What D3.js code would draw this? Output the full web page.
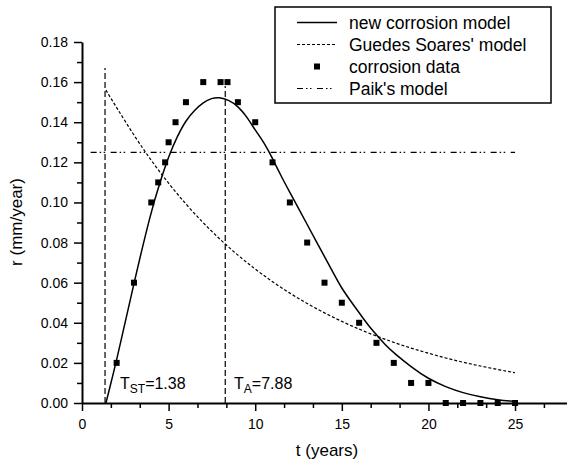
<!DOCTYPE html>
<html>
<head>
<meta charset="utf-8">
<script src="https://cdn.jsdelivr.net/npm/d3@7"></script>
<style>
  body { margin: 0; background: #fff; }
  svg { display: block; font-family: "Liberation Sans", Arial, sans-serif; }
</style>
</head>
<body>
<svg id="chart" width="567" height="464"></svg>
<script>
// corrosion data (t in years, r in mm/year)
const dataT = [2, 3, 4, 4.4, 4.8, 5, 5.4, 6, 7, 8, 8.4, 9, 10, 11, 12, 13, 14, 15, 16, 17, 18, 19, 20, 21, 22, 23, 24, 25];
const dataR = [0.02, 0.06, 0.10, 0.11, 0.12, 0.13, 0.14, 0.15, 0.16, 0.16, 0.16, 0.15, 0.14, 0.12, 0.10, 0.08, 0.06, 0.05, 0.04, 0.03, 0.02, 0.01, 0.01, 0, 0, 0, 0, 0];

// new corrosion model
const newT = [1.38, 2, 3, 4, 4.5, 5, 5.5, 6, 6.5, 7, 7.5, 7.9, 8.5, 9, 9.5, 10, 10.5, 11, 11.5, 12, 12.5, 13, 13.5, 14, 14.5, 15, 15.5, 16, 16.5, 17, 17.5, 18, 19, 20, 21, 22, 23, 24, 25];
const newR = [0, 0.021, 0.060, 0.096, 0.110, 0.123, 0.133, 0.141, 0.146, 0.150, 0.152, 0.1525, 0.151, 0.148, 0.143, 0.136, 0.130, 0.122, 0.113, 0.105, 0.097, 0.089, 0.081, 0.073, 0.065, 0.057, 0.051, 0.045, 0.039, 0.034, 0.029, 0.025, 0.018, 0.012, 0.008, 0.005, 0.003, 0.0015, 0.0008];

// Guedes Soares' model
const gsT = [1.38, 2, 3, 4, 5, 6, 7, 8, 9, 10, 11, 12, 13, 14, 15, 16, 17, 18, 19, 20, 21, 22, 23, 24, 25];
const gsR = [0.156, 0.1473, 0.1334, 0.1208, 0.1094, 0.0991, 0.0897, 0.0813, 0.0736, 0.0667, 0.0604, 0.0547, 0.0495, 0.0449, 0.0406, 0.0368, 0.0333, 0.0302, 0.0273, 0.0248, 0.0224, 0.0203, 0.0184, 0.0167, 0.0151];

// Paik's model (constant rate)
const paikT = [0.5, 25];
const paikR = [0.125, 0.125];

// marker lines T_ST and T_A
const markT = [1.33, 8.27];
const markTop = [0.167, 0.158];

const xMajor = [0, 5, 10, 15, 20, 25];
const yMajor = [0, 0.02, 0.04, 0.06, 0.08, 0.10, 0.12, 0.14, 0.16, 0.18];

const legendNames = ["new corrosion model", "Guedes Soares' model", "corrosion data", "Paik's model"];

const svg = d3.select("#chart");
const x = d3.scaleLinear().domain([0, 28]).range([82, 567]);
const y = d3.scaleLinear().domain([0, 0.18]).range([403, 42]);

// axes
const xMinor = d3.range(0, 28.01, 5 / 3).filter(v => Math.abs(v / 5 - Math.round(v / 5)) > 0.01);
const yMinor = d3.range(0.01, 0.18, 0.02);

svg.append("g")
    .attr("transform", "translate(0,403)")
    .call(d3.axisBottom(x).tickValues(xMinor).tickSize(5).tickSizeOuter(0).tickFormat(""))
    .call(g => g.select(".domain").remove())
    .selectAll("line").attr("stroke-width", 1.5);

svg.append("g")
    .attr("transform", "translate(82,0)")
    .call(d3.axisLeft(y).tickValues(yMinor).tickSize(5).tickSizeOuter(0).tickFormat(""))
    .call(g => g.select(".domain").remove())
    .selectAll("line").attr("stroke-width", 1.5);

const gx = svg.append("g")
    .attr("transform", "translate(0,403)")
    .call(d3.axisBottom(x).tickValues(xMajor).tickSize(8).tickSizeOuter(0).tickPadding(8).tickFormat(d3.format("d")));
gx.select(".domain").attr("stroke-width", 2);
gx.selectAll("line").attr("stroke-width", 1.5);
gx.selectAll("text").attr("font-size", 14).attr("fill", "#000");

const gy = svg.append("g")
    .attr("transform", "translate(82,0)")
    .call(d3.axisLeft(y).tickValues(yMajor).tickSize(8).tickSizeOuter(0).tickPadding(6).tickFormat(d3.format(".2f")));
gy.select(".domain").attr("stroke-width", 2);
gy.selectAll("line").attr("stroke-width", 1.5);
gy.selectAll("text").attr("font-size", 14).attr("fill", "#000");
svg.selectAll("g").attr("font-family", null);

// axis titles
svg.append("text")
    .attr("x", 327).attr("y", 456)
    .attr("text-anchor", "middle")
    .attr("font-size", 17)
    .text("t (years)");

svg.append("text")
    .attr("transform", "translate(22,222) rotate(-90)")
    .attr("text-anchor", "middle")
    .attr("font-size", 17)
    .text("r (mm/year)");

// lines
const line = d3.line().x(d => x(d[0])).y(d => y(d[1])).curve(d3.curveBasis);

svg.append("path")
    .datum(d3.zip(gsT, gsR))
    .attr("fill", "none").attr("stroke", "#000").attr("stroke-width", 1.2)
    .attr("stroke-dasharray", "3,2")
    .attr("d", line);

svg.append("path")
    .datum(d3.zip(paikT, paikR))
    .attr("fill", "none").attr("stroke", "#000").attr("stroke-width", 1.2)
    .attr("stroke-dasharray", "6,3,1.5,2.5,1.5,5.5")
    .attr("d", line);

markT.forEach((t, i) => {
    svg.append("line")
        .attr("x1", x(t)).attr("x2", x(t))
        .attr("y1", y(0)).attr("y2", y(markTop[i]))
        .attr("stroke", "#000").attr("stroke-width", 1.2)
        .attr("stroke-dasharray", "6,3");
});

svg.append("path")
    .datum(d3.zip(newT, newR))
    .attr("fill", "none").attr("stroke", "#000").attr("stroke-width", 1.5)
    .attr("d", line);

svg.selectAll("rect.pt")
    .data(d3.zip(dataT, dataR))
    .enter().append("rect")
    .attr("class", "pt")
    .attr("x", d => x(d[0]) - 3)
    .attr("y", d => y(d[1]) - 3)
    .attr("width", 6).attr("height", 6)
    .attr("fill", "#000");

// annotations
const tst = svg.append("text").attr("x", 120).attr("y", 389).attr("font-size", 16);
tst.append("tspan").text("T");
tst.append("tspan").attr("dy", 4).attr("font-size", 12).text("ST");
tst.append("tspan").attr("dy", -4).text("=1.38");

const ta = svg.append("text").attr("x", 234).attr("y", 389).attr("font-size", 16);
ta.append("tspan").text("T");
ta.append("tspan").attr("dy", 4).attr("font-size", 12).text("A");
ta.append("tspan").attr("dy", -4).text("=7.88");

// legend
const legend = svg.append("g");
legend.append("rect")
    .attr("x", 275).attr("y", 7).attr("width", 276).attr("height", 96)
    .attr("fill", "#fff").attr("stroke", "#000").attr("stroke-width", 1.5);

const rowY = [22.5, 44.5, 66.5, 88.5];
const dashes = [null, "3,2", null, "6,3,1.5,2.5,1.5,5.5"];
legendNames.forEach((name, i) => {
    if (i === 2) {
        legend.append("rect")
            .attr("x", 314).attr("y", rowY[i] - 3)
            .attr("width", 6).attr("height", 6).attr("fill", "#000");
    } else {
        legend.append("line")
            .attr("x1", 297).attr("x2", 337)
            .attr("y1", rowY[i]).attr("y2", rowY[i])
            .attr("stroke", "#000").attr("stroke-width", i === 0 ? 1.5 : 1.2)
            .attr("stroke-dasharray", dashes[i]);
    }
    legend.append("text")
        .attr("x", 349).attr("y", rowY[i])
        .attr("dy", "0.35em")
        .attr("font-size", 17.5)
        .text(name);
});
</script>
</body>
</html>
